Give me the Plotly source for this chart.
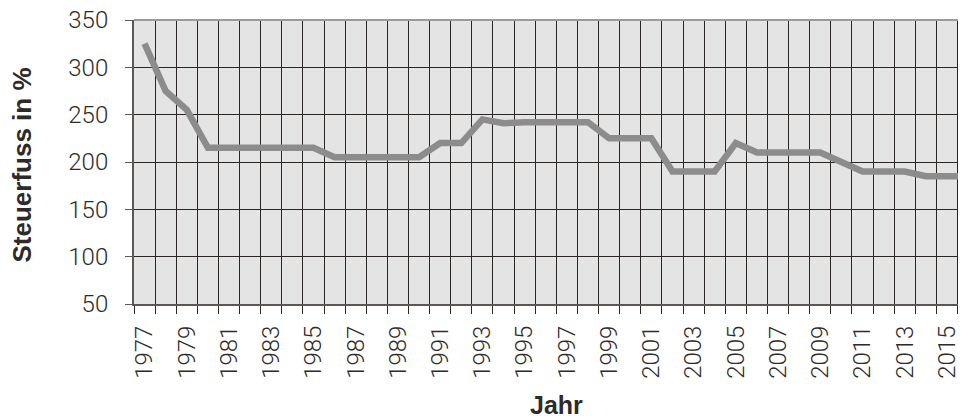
import plotly.graph_objects as go

years = list(range(1977, 2017))
steuerfuss = [325, 275, 255, 215, 215, 215, 215, 215, 215, 205,
              205, 205, 205, 205, 220, 220, 245, 241, 242, 242,
              242, 242, 225, 225, 225, 190, 190, 190, 220, 210,
              210, 210, 210, 200, 190, 190, 190, 185, 185, 185]
tick_years = list(range(1977, 2016, 2))
y_ticks = [50, 100, 150, 200, 250, 300, 350]

grid_col = "#2b2623"
axis_col = "#5c5752"
text_col = "#2e2a27"
tick_font = dict(family="Roboto, Liberation Sans, Arial, sans-serif", size=24, color=text_col, weight=300)

fig = go.Figure()
fig.add_trace(go.Scatter(
    x=years, y=steuerfuss, mode="lines",
    line=dict(color="#8c8c8c", width=6.5),
    hoverinfo="skip", showlegend=False,
))

fig.update_layout(
    width=958, height=408,
    margin=dict(l=126, r=0, t=12, b=112, autoexpand=False),
    paper_bgcolor="white",
    plot_bgcolor="#e4e4e4",
    showlegend=False,
    xaxis=dict(
        range=[1976.5, 2015.9],
        tickmode="array", tickvals=tick_years, ticktext=[str(v) for v in tick_years],
        tickangle=-90, ticks="", showgrid=False, zeroline=False,
        tickfont=tick_font, ticklabelstandoff=10, ticklabeloverflow="allow",
        showline=True, linecolor=axis_col, linewidth=2,
        minor=dict(tick0=1976.5, dtick=1, ticks="outside", ticklen=8, tickcolor=grid_col,
                   tickwidth=1, showgrid=True, gridcolor=grid_col, gridwidth=1),
        automargin=False,
    ),
    yaxis=dict(
        range=[50, 350], tickmode="array", tickvals=y_ticks,
        ticks="outside", ticklen=7, tickcolor=axis_col, tickwidth=1,
        showgrid=True, gridcolor=grid_col, gridwidth=1, zeroline=False,
        showline=True, linecolor=axis_col, linewidth=2,
        tickfont=tick_font, ticklabelstandoff=12, ticklabeloverflow="allow",
        automargin=False,
    ),
    shapes=[dict(type="line", xref="paper", yref="paper", x0=0, x1=1, y0=1, y1=1,
                 line=dict(color="#9a9a9a", width=2))],
    annotations=[
        dict(text="<b>Steuerfuss in %</b>", xref="paper", yref="paper",
             x=-0.135, y=0.49, xanchor="center", yanchor="middle", textangle=-90,
             showarrow=False, font=dict(family="Liberation Sans, Arial, sans-serif", size=26, color=text_col)),
        dict(text="<b>Jahr</b>", xref="paper", yref="paper",
             x=0.508, y=-0.355, xanchor="center", yanchor="middle",
             showarrow=False, font=dict(family="Liberation Sans, Arial, sans-serif", size=25, color=text_col)),
    ],
)

fig.write_html("out.html")
